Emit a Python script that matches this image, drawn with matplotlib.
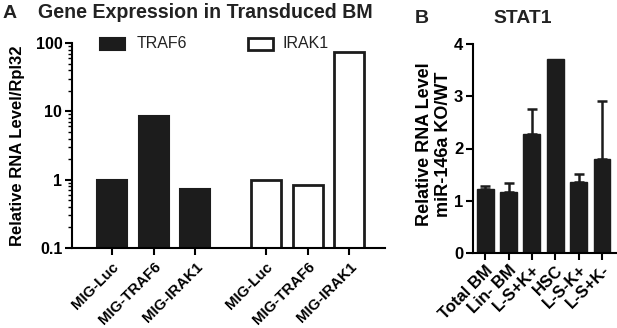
import matplotlib
matplotlib.use("Agg")
import matplotlib.pyplot as plt
from matplotlib.patches import Rectangle
import matplotlib.ticker as mticker
import matplotlib.transforms as mtrans
import numpy as np

plt.rcParams['font.family'] = ['Liberation Sans', 'DejaVu Sans']

# Panel A data
a_labels = ["MIG-Luc", "MIG-TRAF6", "MIG-IRAK1", "MIG-Luc", "MIG-TRAF6", "MIG-IRAK1"]
traf6_vals = [1.0, 8.6, 0.74]
irak1_vals = [1.0, 0.83, 74.0]
a_pos_traf6 = [0, 1, 2]
a_pos_irak1 = [3.7, 4.7, 5.7]
series_names = ["TRAF6", "IRAK1"]

# Panel B data
b_labels = ["Total BM", "Lin- BM", "L-S+K+", "HSC", "L-S-K+", "L-S+K-"]
b_vals = [1.22, 1.16, 2.27, 3.72, 1.36, 1.80]
b_err = [0.06, 0.18, 0.49, 0.0, 0.15, 1.10]

dark = "#1c1c1c"
fig = plt.figure(figsize=(6.17, 3.28), dpi=100)

# ---- Panel A ----
axA = fig.add_axes([72/617, 1-248/328, (385-72)/617, (248-43)/328])
axA.bar(a_pos_traf6, traf6_vals, width=0.72, color=dark, edgecolor=dark, linewidth=1.5)
axA.bar(a_pos_irak1, irak1_vals, width=0.72, color="white", edgecolor=dark, linewidth=2)
axA.set_yscale("log")
axA.set_ylim(0.1, 100)
axA.set_xlim(-0.96, 6.56)
axA.yaxis.set_major_locator(mticker.FixedLocator([0.1, 1, 10, 100]))
axA.yaxis.set_major_formatter(mticker.FixedFormatter(["0.1", "1", "10", "100"]))
axA.yaxis.set_minor_locator(mticker.LogLocator(base=10, subs=np.arange(2, 10)))
axA.yaxis.set_minor_formatter(mticker.NullFormatter())
axA.set_xticks(a_pos_traf6 + a_pos_irak1)
axA.set_xticklabels(a_labels, rotation=45, ha="right", rotation_mode="anchor",
                    fontsize=10.8, fontweight="bold")
for s in ["top", "right"]:
    axA.spines[s].set_visible(False)
for s in ["left", "bottom"]:
    axA.spines[s].set_linewidth(1.5)
axA.tick_params(axis="y", which="major", length=5, width=1.5, labelsize=11.5, pad=2)
axA.tick_params(axis="x", which="major", length=5, width=1.5, pad=3.5)
axA.tick_params(axis="y", which="minor", length=3, width=1)
for t in axA.get_yticklabels():
    t.set_fontweight("bold")
axA.set_ylabel("Relative RNA Level/Rpl32", fontsize=12, fontweight="bold")
axA.yaxis.set_label_coords(-0.15, 0.5)

# legend drawn as patches + text
leg_items = [(series_names[0], dark, 1.5, 0.089, 0.208),
             (series_names[1], "white", 2.0, 0.562, 0.672)]
for name, fc, lw, rx, tx in leg_items:
    axA.add_patch(Rectangle((rx, 0.966), 0.081, 0.06, transform=axA.transAxes,
                            facecolor=fc, edgecolor=dark, linewidth=lw, clip_on=False))
    axA.text(tx, 0.997, name, transform=axA.transAxes, fontsize=11.5,
             va="center", ha="left", color="#222222")

fig.text(3/617, 1-18/328, "A", fontsize=14, fontweight="bold", va="baseline", ha="left",
         color="#222222")
fig.text(38/617, 1-18/328, "Gene Expression in Transduced BM", fontsize=14.1,
         fontweight="bold", va="baseline", ha="left", color="#222222")

# ---- Panel B ----
axB = fig.add_axes([473/617, 1-253/328, (616-473)/617, (253-44)/328])
xb = np.arange(len(b_vals))
axB.bar(xb, b_vals, width=0.72, color=dark, edgecolor=dark, linewidth=1)
errs = np.array([np.zeros(len(b_err)), b_err])
mask = np.array(b_err) > 0
axB.errorbar(xb[mask], np.array(b_vals)[mask], yerr=errs[:, mask], fmt="none",
             ecolor=dark, elinewidth=1.8, capsize=3.5, capthick=1.8)
axB.set_ylim(0, 4)
axB.set_xlim(-0.52, 5.6)
axB.set_yticks([0, 1, 2, 3, 4])
axB.set_xticks(xb)
axB.set_xticklabels(b_labels, rotation=45, ha="right", rotation_mode="anchor",
                    fontsize=9.5, fontweight="bold")
shift = mtrans.ScaledTranslation(-7/100, -6/100, fig.dpi_scale_trans)
for lbl in axB.get_xticklabels():
    lbl.set_transform(lbl.get_transform() + shift)
for s in ["top", "right"]:
    axB.spines[s].set_visible(False)
for s in ["left", "bottom"]:
    axB.spines[s].set_linewidth(1.5)
axB.tick_params(axis="both", length=5, width=1.5, labelsize=12, pad=2)
for t in axB.get_yticklabels():
    t.set_fontweight("bold")
axB.set_ylabel("Relative RNA Level\nmiR-146a KO/WT", fontsize=13,
               fontweight="bold", linespacing=1.1)
axB.yaxis.set_label_coords(-0.15, 0.52)

fig.text(415/617, 1-23/328, "B", fontsize=14, fontweight="bold", va="baseline", ha="left",
         color="#222222")
fig.text(523/617, 1-23/328, "STAT1", fontsize=13.9, fontweight="bold",
         va="baseline", ha="center", color="#222222")

fig.savefig("out.png", dpi=100)
